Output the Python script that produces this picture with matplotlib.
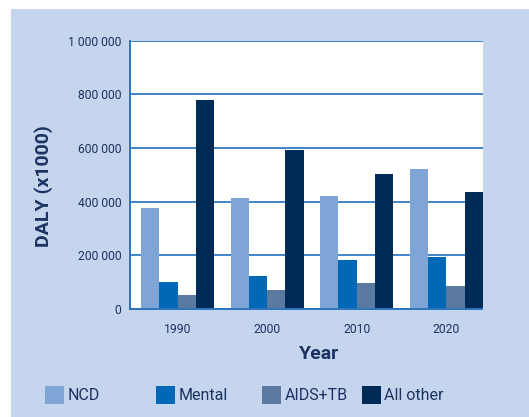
import matplotlib
matplotlib.use("Agg")
import matplotlib.pyplot as plt
from matplotlib.patches import Rectangle
from matplotlib.ticker import FuncFormatter
import numpy as np

years = ["1990", "2000", "2010", "2020"]
series = ["NCD", "Mental", "AIDS+TB", "All other"]
ncd = [375000, 412000, 420000, 520000]
mental = [100000, 122000, 181000, 193000]
aids_tb = [51000, 70000, 96000, 85000]
all_other = [777000, 591000, 502000, 435000]
values = [ncd, mental, aids_tb, all_other]
colors = ["#7fa5d6", "#0068b4", "#5a7a9f", "#002b56"]

plt.rcParams["font.family"] = ["Roboto", "DejaVu Sans"]
TXT = "#1a3360"
PANEL = "#c6d5ee"
AXC = "#2a74bf"
GRID = "#3f86c8"

W, H = 529, 417
fig = plt.figure(figsize=(W / 100, H / 100), dpi=100)
fig.patch.set_facecolor("white")
fig.add_artist(Rectangle((11 / W, 0), 1 - 11 / W, 1 - 9 / H, transform=fig.transFigure,
                         facecolor=PANEL, edgecolor="none", zorder=-10))

ax = fig.add_axes([129.5 / W, 1 - 309 / H, (482.5 - 129.5) / W, (309 - 40.5) / H])
ax.set_facecolor("white")

x = np.arange(len(years))
bw = 0.204
for i, (name, vals, c) in enumerate(zip(series, values, colors)):
    ax.bar(x + (i - 1.5) * bw, vals, width=bw, color=c, label=name, zorder=3, linewidth=0)

ax.set_xlim(-0.536, 3.404)
ax.set_ylim(0, 1000000)
ax.set_yticks(np.arange(0, 1000001, 200000))
ax.yaxis.set_major_formatter(FuncFormatter(lambda v, p: f"{int(v):,}".replace(",", " ")))
ax.set_xticks(x)
ax.set_xticklabels(years)
ax.grid(axis="y", color=GRID, linewidth=1.4, zorder=1)
ax.tick_params(length=0, labelsize=8.7, labelcolor=TXT, pad=6)
ax.tick_params(axis="x", pad=10)
for s in ["right", "top"]:
    ax.spines[s].set_visible(False)
for s in ["left", "bottom"]:
    ax.spines[s].set_color(AXC)
    ax.spines[s].set_linewidth(1.4)
    ax.spines[s].set_zorder(4)

fig.text(44 / W, 1 - 186 / H, "DALY (x1000)", rotation=90, ha="center", va="center",
         fontsize=14, fontweight="bold", color=TXT)
fig.text(319 / W, 1 - 354 / H, "Year", ha="center", va="center",
         fontsize=14, fontweight="bold", color=TXT)

patch_x = [45, 156, 262, 362]
for px, name, c in zip(patch_x, series, colors):
    fig.add_artist(Rectangle((px / W, 1 - 404 / H), 19 / W, 18.5 / H, transform=fig.transFigure,
                             facecolor=c, edgecolor="none"))
    fig.text((px + 22.5) / W, 1 - 396 / H, name, ha="left", va="center",
             fontsize=11.5, color=TXT)

fig.savefig("out.png", dpi=100)
